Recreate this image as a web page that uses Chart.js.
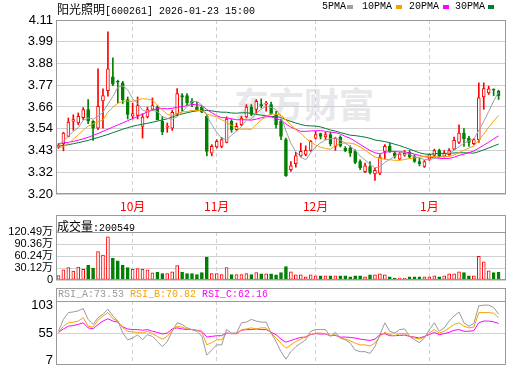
<!DOCTYPE html>
<html>
<head>
<meta charset="utf-8">
<title>阳光照明 K线</title>
<script src="https://cdn.jsdelivr.net/npm/chart.js@4.4.0/dist/chart.umd.min.js"></script>
<style>
    body { margin: 0; background: #fff; }
    #box { position: relative; width: 520px; height: 365px; overflow: hidden; }
    #box canvas { position: absolute; left: 0; }
    .txt { position: absolute; white-space: nowrap; font: 10px "Liberation Mono", monospace; line-height: 14px; color: #000; }
    .cjk { font: 12px "Noto Sans CJK SC", sans-serif; }
    .sw { position: absolute; top: 5px; width: 6px; height: 4px; }
    .head { position: absolute; left: 56px; width: 450px; border: 1px solid #999; border-bottom: none; box-sizing: border-box; }
    #mark { position: absolute; left: 234px; top: 83px; font: bold 35px "Noto Sans CJK SC", sans-serif; line-height: 40px; color: #e8e8ec; }
</style>
</head>
<body>
<div id="box">
    <div id="mark">东方财富</div>
    <canvas id="price" width="520" height="215" style="top:0"></canvas>
    <canvas id="vol" width="520" height="70" style="top:215px"></canvas>
    <canvas id="rsi" width="520" height="77" style="top:288px"></canvas>

    <div class="txt" style="left:57px;top:0"><span class="cjk">阳光照明</span>[600261] 2026-01-23 15:00</div>
    <div class="txt" style="left:322px;top:0">5PMA</div>
    <div class="sw" style="left:347px;background:#a0a0a0"></div>
    <div class="txt" style="left:362px;top:0">10PMA</div>
    <div class="sw" style="left:396px;background:#f5a300"></div>
    <div class="txt" style="left:409px;top:0">20PMA</div>
    <div class="sw" style="left:443px;background:#ff00ff"></div>
    <div class="txt" style="left:455px;top:0">30PMA</div>
    <div class="sw" style="left:488px;background:#007a36"></div>

    <div class="head" style="top:215px;height:18px"></div>
    <div class="txt" style="left:57px;top:217px"><span class="cjk">成交量</span>:200549</div>

    <div class="head" style="top:288px;height:14px"></div>
    <div class="txt" style="left:58px;top:288px;color:#999">RSI_A:73.53</div>
    <div class="txt" style="left:130px;top:288px;color:#f5a300">RSI_B:70.82</div>
    <div class="txt" style="left:202px;top:288px;color:#ff00ff">RSI_C:62.16</div>
</div>
<script>
var dates = [
    '09-10','09-11','09-12','09-15','09-16','09-17','09-18','09-19','09-22','09-23','09-24','09-25','09-26','09-29','09-30',
    '10-09','10-10','10-13','10-14','10-15','10-16','10-17','10-20','10-21','10-22','10-23','10-24','10-27','10-28','10-29','10-30','10-31',
    '11-03','11-04','11-05','11-06','11-07','11-10','11-11','11-12','11-13','11-14','11-17','11-18','11-19','11-20','11-21','11-24','11-25','11-26','11-27','11-28',
    '12-01','12-02','12-03','12-04','12-05','12-08','12-09','12-10','12-11','12-12','12-15','12-16','12-17','12-18','12-19','12-22','12-23','12-24','12-25','12-26','12-29','12-30','12-31',
    '01-05','01-06','01-07','01-08','01-09','01-12','01-13','01-14','01-15','01-16','01-19','01-20','01-21','01-22','01-23'
];

var open = [
    3.448, 3.465, 3.503, 3.582, 3.572, 3.600, 3.642, 3.581, 3.546, 3.687,
    3.739, 3.811, 3.786, 3.780, 3.693, 3.607, 3.611, 3.555, 3.603, 3.642,
    3.655, 3.581, 3.550, 3.546, 3.621, 3.714, 3.714, 3.685, 3.655, 3.655,
    3.607, 3.416, 3.448, 3.451, 3.472, 3.581, 3.537, 3.564, 3.603, 3.655,
    3.642, 3.668, 3.670, 3.667, 3.616, 3.581, 3.486, 3.330, 3.361, 3.402,
    3.410, 3.430, 3.494, 3.517, 3.500, 3.512, 3.451, 3.499, 3.441, 3.444,
    3.425, 3.373, 3.320, 3.347, 3.309, 3.312, 3.425, 3.451, 3.416, 3.385,
    3.405, 3.420, 3.398, 3.373, 3.347, 3.385, 3.404, 3.429, 3.399, 3.408,
    3.437, 3.472, 3.520, 3.494, 3.465, 3.486, 3.707, 3.728, 3.748, 3.737
];
var high = [
    3.465, 3.524, 3.598, 3.615, 3.624, 3.652, 3.694, 3.585, 3.853, 3.749,
    4.044, 3.910, 3.794, 3.788, 3.707, 3.676, 3.707, 3.620, 3.655, 3.702,
    3.662, 3.607, 3.572, 3.638, 3.751, 3.725, 3.725, 3.698, 3.680, 3.660,
    3.616, 3.460, 3.486, 3.498, 3.604, 3.590, 3.572, 3.607, 3.667, 3.667,
    3.694, 3.697, 3.685, 3.680, 3.633, 3.593, 3.494, 3.373, 3.420, 3.468,
    3.454, 3.482, 3.529, 3.520, 3.524, 3.524, 3.499, 3.506, 3.450, 3.454,
    3.434, 3.382, 3.364, 3.373, 3.339, 3.408, 3.460, 3.468, 3.425, 3.420,
    3.430, 3.430, 3.407, 3.390, 3.378, 3.413, 3.437, 3.437, 3.430, 3.440,
    3.499, 3.563, 3.543, 3.503, 3.492, 3.780, 3.780, 3.763, 3.749, 3.742
];
var low = [
    3.440, 3.428, 3.500, 3.534, 3.563, 3.590, 3.569, 3.482, 3.538, 3.546,
    3.711, 3.766, 3.676, 3.673, 3.593, 3.593, 3.593, 3.494, 3.598, 3.638,
    3.587, 3.512, 3.524, 3.534, 3.610, 3.633, 3.667, 3.657, 3.638, 3.625,
    3.402, 3.402, 3.442, 3.444, 3.469, 3.524, 3.534, 3.558, 3.598, 3.610,
    3.616, 3.650, 3.633, 3.616, 3.546, 3.486, 3.295, 3.322, 3.343, 3.396,
    3.402, 3.425, 3.489, 3.489, 3.486, 3.454, 3.430, 3.448, 3.424, 3.399,
    3.361, 3.330, 3.315, 3.309, 3.275, 3.304, 3.385, 3.420, 3.390, 3.381,
    3.400, 3.390, 3.368, 3.350, 3.342, 3.378, 3.397, 3.395, 3.396, 3.404,
    3.434, 3.465, 3.451, 3.451, 3.460, 3.472, 3.643, 3.720, 3.714, 3.694
];
var close = [
    3.455, 3.520, 3.577, 3.590, 3.607, 3.642, 3.581, 3.546, 3.659, 3.714,
    3.853, 3.773, 3.783, 3.693, 3.616, 3.621, 3.662, 3.603, 3.642, 3.662,
    3.590, 3.526, 3.553, 3.628, 3.725, 3.706, 3.676, 3.675, 3.641, 3.628,
    3.425, 3.451, 3.477, 3.486, 3.593, 3.537, 3.555, 3.598, 3.655, 3.616,
    3.685, 3.662, 3.672, 3.621, 3.564, 3.503, 3.299, 3.350, 3.402, 3.425,
    3.430, 3.477, 3.512, 3.503, 3.512, 3.465, 3.494, 3.454, 3.428, 3.416,
    3.368, 3.339, 3.350, 3.316, 3.327, 3.396, 3.451, 3.425, 3.400, 3.413,
    3.415, 3.396, 3.373, 3.361, 3.373, 3.408, 3.429, 3.399, 3.416, 3.429,
    3.482, 3.520, 3.491, 3.472, 3.486, 3.702, 3.751, 3.749, 3.742, 3.714
];

// 成交量, 单位: 万
var volume = [
    11.2, 25.8, 31.0, 22.4, 32.7, 26.7, 37.0, 29.3, 71.4, 62.8,
    108.4, 54.2, 48.2, 37.0, 31.0, 26.7, 28.4, 26.7, 25.8, 18.1,
    19.8, 16.4, 16.4, 20.7, 36.1, 19.8, 16.4, 16.4, 13.8, 18.9,
    57.7, 16.4, 16.4, 13.8, 31.0, 13.8, 13.8, 13.8, 16.4, 13.8,
    18.9, 15.3, 15.3, 15.3, 12.8, 18.7, 34.0, 20.4, 12.8, 12.8,
    7.7, 12.8, 10.2, 10.2, 10.2, 10.2, 10.2, 10.2, 10.2, 7.7,
    10.2, 10.2, 7.7, 12.8, 12.8, 15.3, 12.8, 7.7, 5.1, 5.1,
    5.1, 7.7, 7.7, 7.7, 7.7, 7.7, 10.2, 7.7, 10.2, 15.3,
    15.3, 20.4, 18.7, 10.2, 10.2, 59.5, 45.9, 23.0, 18.7, 20.05
];

var ma5 = [
    3.452, 3.478, 3.505, 3.528, 3.548, 3.586, 3.598, 3.592, 3.607, 3.628,
    3.671, 3.709, 3.757, 3.764, 3.744, 3.698, 3.675, 3.639, 3.629, 3.638,
    3.632, 3.605, 3.595, 3.592, 3.604, 3.628, 3.658, 3.682, 3.685, 3.665,
    3.609, 3.564, 3.524, 3.493, 3.486, 3.509, 3.530, 3.554, 3.588, 3.592,
    3.622, 3.644, 3.659, 3.652, 3.642, 3.606, 3.532, 3.467, 3.424, 3.396,
    3.381, 3.417, 3.449, 3.469, 3.484, 3.491, 3.495, 3.483, 3.468, 3.451,
    3.432, 3.401, 3.380, 3.358, 3.340, 3.346, 3.368, 3.383, 3.400, 3.417,
    3.420, 3.409, 3.398, 3.391, 3.383, 3.382, 3.389, 3.394, 3.405, 3.416,
    3.431, 3.449, 3.468, 3.479, 3.490, 3.534, 3.580, 3.632, 3.686, 3.732
];
var ma10 = [
    3.442, 3.452, 3.466, 3.488, 3.510, 3.535, 3.556, 3.568, 3.578, 3.588,
    3.628, 3.654, 3.674, 3.685, 3.686, 3.684, 3.692, 3.698, 3.696, 3.691,
    3.665, 3.640, 3.617, 3.610, 3.621, 3.630, 3.631, 3.638, 3.638, 3.635,
    3.618, 3.611, 3.603, 3.589, 3.576, 3.559, 3.547, 3.539, 3.541, 3.539,
    3.565, 3.587, 3.607, 3.620, 3.617, 3.614, 3.588, 3.563, 3.538, 3.519,
    3.493, 3.474, 3.458, 3.447, 3.440, 3.436, 3.456, 3.466, 3.469, 3.468,
    3.462, 3.448, 3.432, 3.413, 3.396, 3.389, 3.385, 3.382, 3.379, 3.379,
    3.383, 3.388, 3.391, 3.395, 3.400, 3.401, 3.399, 3.396, 3.398, 3.399,
    3.407, 3.419, 3.431, 3.442, 3.453, 3.483, 3.515, 3.550, 3.582, 3.611
];
var ma20 = [
    3.466, 3.469, 3.472, 3.477, 3.483, 3.490, 3.498, 3.508, 3.518, 3.529,
    3.540, 3.551, 3.562, 3.573, 3.584, 3.595, 3.606, 3.618, 3.630, 3.640,
    3.646, 3.647, 3.646, 3.648, 3.654, 3.657, 3.662, 3.668, 3.667, 3.663,
    3.642, 3.625, 3.610, 3.600, 3.599, 3.594, 3.589, 3.589, 3.589, 3.587,
    3.592, 3.599, 3.605, 3.605, 3.596, 3.586, 3.567, 3.551, 3.539, 3.529,
    3.529, 3.531, 3.532, 3.533, 3.529, 3.525, 3.522, 3.515, 3.503, 3.493,
    3.478, 3.461, 3.445, 3.430, 3.418, 3.413, 3.420, 3.424, 3.424, 3.423,
    3.422, 3.418, 3.411, 3.404, 3.398, 3.395, 3.392, 3.389, 3.388, 3.389,
    3.395, 3.404, 3.411, 3.419, 3.427, 3.442, 3.457, 3.473, 3.490, 3.505
];
var ma30 = [
    3.452, 3.456, 3.460, 3.465, 3.470, 3.476, 3.482, 3.490, 3.497, 3.505,
    3.513, 3.522, 3.531, 3.540, 3.548, 3.555, 3.561, 3.566, 3.571, 3.576,
    3.582, 3.588, 3.594, 3.603, 3.612, 3.619, 3.625, 3.631, 3.635, 3.638,
    3.637, 3.635, 3.631, 3.628, 3.628, 3.624, 3.623, 3.625, 3.625, 3.622,
    3.616, 3.613, 3.609, 3.606, 3.605, 3.601, 3.589, 3.580, 3.572, 3.564,
    3.559, 3.557, 3.556, 3.552, 3.544, 3.536, 3.530, 3.523, 3.516, 3.509,
    3.507, 3.503, 3.499, 3.493, 3.484, 3.480, 3.476, 3.470, 3.462, 3.455,
    3.446, 3.437, 3.427, 3.418, 3.412, 3.409, 3.413, 3.415, 3.415, 3.415,
    3.417, 3.418, 3.418, 3.417, 3.416, 3.424, 3.433, 3.443, 3.453, 3.463
];

var rsiA = [
    57.6, 75.4, 85.6, 86.6, 88.2, 91.7, 75.4, 67.8, 78.0, 83.0,
    90.7, 80.5, 72.9, 55.0, 44.8, 47.4, 52.5, 44.8, 52.5, 49.9,
    42.3, 34.6, 42.3, 57.6, 70.3, 67.8, 62.7, 60.1, 57.6, 49.9,
    21.9, 29.5, 37.2, 37.2, 60.1, 55.0, 55.0, 70.3, 71.3, 75.4,
    72.9, 71.3, 71.3, 55.0, 42.3, 27.0, 15.7, 27.0, 34.6, 39.7,
    44.8, 57.6, 60.1, 60.1, 60.1, 49.9, 56.0, 47.4, 44.8, 39.7,
    29.5, 27.0, 27.0, 24.4, 34.6, 52.5, 70.3, 57.6, 55.0, 60.1,
    61.1, 49.9, 44.8, 40.7, 47.4, 60.1, 70.3, 57.6, 62.7, 72.9,
    80.5, 86.6, 70.3, 65.2, 69.3, 95.8, 96.8, 96.8, 93.3, 83.0
];
var rsiB = [
    56.0, 65.2, 70.3, 71.3, 72.9, 78.0, 65.2, 63.7, 74.4, 80.5,
    85.6, 76.4, 72.9, 62.7, 57.6, 56.5, 56.0, 55.0, 57.6, 54.0,
    49.9, 45.8, 49.9, 59.1, 65.2, 63.7, 61.1, 60.1, 59.1, 56.0,
    37.2, 40.7, 44.8, 44.8, 55.0, 54.0, 54.0, 60.1, 61.1, 62.7,
    61.1, 62.7, 62.7, 55.0, 47.4, 39.7, 32.1, 37.2, 42.3, 45.8,
    49.9, 52.5, 55.0, 55.0, 54.0, 50.9, 52.5, 47.4, 45.8, 43.3,
    39.7, 37.2, 37.2, 35.6, 39.7, 49.9, 56.0, 52.5, 50.9, 54.0,
    54.0, 49.9, 47.4, 45.8, 48.9, 55.0, 60.1, 55.0, 57.6, 62.7,
    67.8, 70.3, 65.2, 62.7, 63.7, 85.6, 85.6, 85.6, 84.6, 78.0
];
var rsiC = [
    56.0, 61.1, 65.2, 66.2, 67.8, 70.3, 62.7, 61.1, 67.8, 72.9,
    76.4, 72.9, 71.3, 64.2, 61.1, 60.1, 60.1, 59.1, 60.1, 57.6,
    56.0, 53.5, 55.0, 61.1, 62.7, 61.1, 60.1, 60.1, 59.1, 57.6,
    48.9, 49.9, 50.9, 50.9, 55.0, 54.0, 54.0, 59.1, 60.1, 60.1,
    61.1, 60.1, 60.1, 56.0, 52.5, 45.8, 41.2, 43.8, 46.3, 48.4,
    48.9, 52.5, 54.0, 53.5, 53.5, 50.9, 51.4, 48.9, 48.9, 48.4,
    47.4, 45.8, 44.8, 43.8, 45.8, 52.5, 54.0, 50.9, 50.9, 51.4,
    51.9, 49.9, 48.9, 47.4, 49.9, 52.5, 56.0, 52.5, 54.0, 56.0,
    59.1, 60.1, 57.6, 57.6, 58.6, 70.3, 72.9, 72.9, 71.8, 69.3
];

var priceTicks = ['3.20', '3.32', '3.43', '3.54', '3.66', '3.77', '3.88', '3.99', '4.11'];
var volTicks = ['0', '30.12万', '60.24万', '90.36万', '120.49万'];
var rsiTicks = ['7', '55', '103'];

var UP = '#ff0000', DOWN = '#008000';
var NUM_FONT = '"Liberation Sans", "Noto Sans CJK SC", sans-serif';

Chart.defaults.animation = false;
Chart.defaults.responsive = false;
Chart.defaults.plugins.legend.display = false;
Chart.defaults.plugins.tooltip.enabled = false;

// one empty slot after the last day
var labels = dates.concat(['']);

function isUp(i) { return close[i] >= open[i]; }
function candleColor(i) { return isUp(i) ? UP : DOWN; }
function fillColor(i) { return isUp(i) ? '#ffffff' : DOWN; }

function monthStart(i) {
    return i > 0 && i < dates.length && dates[i].slice(0, 2) !== dates[i - 1].slice(0, 2);
}

var frame = {
    id: 'frame',
    afterDraw: function(chart) {
        var a = chart.chartArea, c = chart.ctx;
        c.save();
        c.strokeStyle = '#999';
        c.lineWidth = 1;
        c.strokeRect(Math.round(a.left) + 0.5, Math.round(a.top) + 0.5,
            Math.round(a.right - a.left) - 1, Math.round(a.bottom - a.top) - 1);
        c.restore();
    }
};

function xScale(showLabels) {
    return {
        type: 'category',
        offset: true,
        grid: { offset: false, color: '#d0d0d0', drawTicks: false },
        border: { display: false, dash: [4, 3] },
        ticks: {
            display: showLabels,
            autoSkip: false,
            maxRotation: 0,
            padding: 5,
            color: '#ff0000',
            font: { family: '"Noto Sans CJK SC", sans-serif', size: 12 },
            callback: function(v) { return parseInt(dates[v].slice(0, 2), 10) + '月'; }
        },
        afterBuildTicks: function(s) {
            s.ticks = s.ticks.filter(function(t) { return monthStart(t.value); });
        },
        afterFit: function(s) {
            s.height = showLabels ? 21 : 0;
            s.paddingLeft = 0;
            s.paddingRight = 0;
        }
    };
}

function yScale(min, max, tickLabels, size, gridColor, inset) {
    return {
        type: 'linear',
        min: min,
        max: max,
        grid: { color: gridColor, drawTicks: false },
        border: { display: false },
        ticks: {
            color: '#000',
            padding: 3,
            font: { family: NUM_FONT, size: size, lineHeight: 0.75 },
            callback: function(v, k) {
                var t = tickLabels[k];
                if (inset && k === 0) return [t, ''];
                if (inset && k === tickLabels.length - 1) return ['', t];
                return t;
            }
        },
        afterBuildTicks: function(s) {
            s.ticks = tickLabels.map(function(t, k) {
                return { value: min + k * (max - min) / (tickLabels.length - 1) };
            });
        },
        afterFit: function(s) {
            s.width = 56;
            s.paddingTop = 0;
            s.paddingBottom = 0;
        }
    };
}

function maLine(data, color) {
    return { type: 'line', data: data, borderColor: color, borderWidth: 1, pointRadius: 0, tension: 0, order: 0 };
}

var ohlcColors = dates.map(function(d, i) { return candleColor(i); });
var bodyFill = dates.map(function(d, i) { return fillColor(i); });

new Chart(document.getElementById('price'), {
    type: 'bar',
    data: {
        labels: labels,
        datasets: [
            maLine(ma5, '#a0a0a0'),
            maLine(ma10, '#f5a300'),
            maLine(ma20, '#ff00ff'),
            maLine(ma30, '#007a36'),
            {
                data: dates.map(function(d, i) { return [open[i], close[i]]; }),
                backgroundColor: bodyFill,
                borderColor: ohlcColors,
                borderWidth: 1,
                borderSkipped: false,
                barThickness: 3,
                minBarLength: 1,
                grouped: false,
                order: 1
            },
            {
                data: dates.map(function(d, i) { return [low[i], high[i]]; }),
                backgroundColor: ohlcColors,
                barThickness: 1,
                grouped: false,
                order: 2
            }
        ]
    },
    options: {
        devicePixelRatio: 1,
        layout: { padding: { left: 0, right: 14, top: 20, bottom: 0 } },
        scales: {
            x: xScale(true),
            y: yScale(3.2045, 4.1055, priceTicks, 13, '#d0d0d0', false)
        }
    },
    plugins: [frame]
});

new Chart(document.getElementById('vol'), {
    type: 'bar',
    data: {
        labels: labels,
        datasets: [{
            data: volume,
            backgroundColor: bodyFill,
            borderColor: ohlcColors,
            borderWidth: 1,
            borderSkipped: false,
            barThickness: 3
        }]
    },
    options: {
        devicePixelRatio: 1,
        layout: { padding: { left: 0, right: 14, top: 17, bottom: 5 } },
        scales: {
            x: xScale(false),
            y: yScale(0, 120.49, volTicks, 11, '#d0d0d0', false)
        }
    },
    plugins: [frame]
});

new Chart(document.getElementById('rsi'), {
    type: 'line',
    data: {
        labels: labels,
        datasets: [
            maLine(rsiA, '#999999'),
            maLine(rsiB, '#f5a300'),
            maLine(rsiC, '#ff00ff')
        ]
    },
    options: {
        devicePixelRatio: 1,
        layout: { padding: { left: 0, right: 14, top: 13, bottom: 0 } },
        scales: {
            x: xScale(false),
            y: yScale(7, 103, rsiTicks, 13, function(ctx) {
                return ctx.index === 1 ? '#d0d0d0' : 'rgba(0,0,0,0)';
            }, true)
        }
    },
    plugins: [frame]
});
</script>
</body>
</html>
